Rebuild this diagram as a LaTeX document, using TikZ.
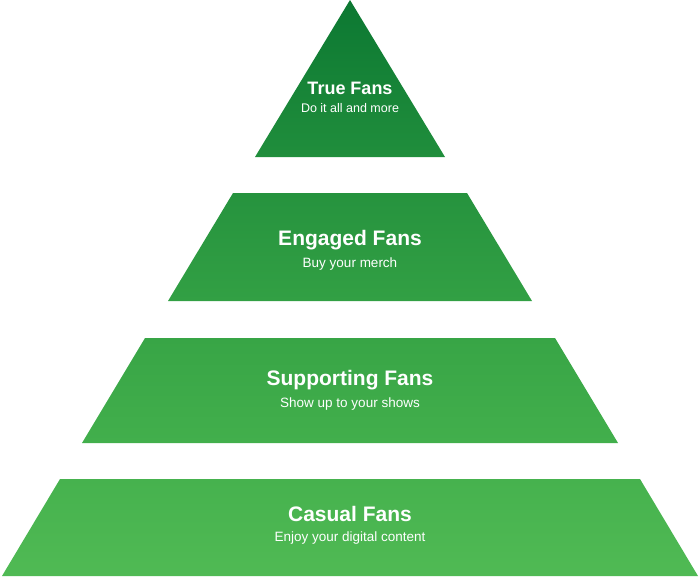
\documentclass[tikz,border=0pt]{standalone}
\usepackage{fontspec}
\setmainfont{Liberation Sans}
\begin{document}
\begin{tikzpicture}[x=1pt,y=-1pt,
  ttl/.style={text=white,font=\bfseries\fontsize{21}{24}\selectfont,inner sep=0},
  sub/.style={text=white,font=\fontsize{13.5}{16}\selectfont,inner sep=0}]
\useasboundingbox (0,0) rectangle (700,576);
\definecolor{g0}{RGB}{12,120,50}
\definecolor{g1}{RGB}{32,142,60}
\definecolor{g2}{RGB}{38,147,62}
\definecolor{g3}{RGB}{50,160,68}
\definecolor{g4}{RGB}{56,165,70}
\definecolor{g5}{RGB}{66,175,76}
\definecolor{g6}{RGB}{70,178,78}
\definecolor{g7}{RGB}{80,186,84}
\shade[top color=g0,bottom color=g1] (350,0) -- (445,157) -- (255,157) -- cycle;
\shade[top color=g2,bottom color=g3] (233,193) -- (467,193) -- (532,301) -- (168,301) -- cycle;
\shade[top color=g4,bottom color=g5] (145,338) -- (555,338) -- (618,443) -- (82,443) -- cycle;
\shade[top color=g6,bottom color=g7] (60,479) -- (640,479) -- (698,576) -- (2,576) -- cycle;
\node[ttl,font=\bfseries\fontsize{18}{20}\selectfont] (t1) at (350,88) {True Fans};
\node[sub,font=\fontsize{12.5}{14}\selectfont] (s1) at (350,108) {Do it all and more};
\node[ttl] (t2) at (350,240) {Engaged Fans};
\node[sub] (s2) at (350,264) {Buy your merch};
\node[ttl] (t3) at (350,380) {Supporting Fans};
\node[sub] (s3) at (350,404) {Show up to your shows};
\node[ttl] (t4) at (350,514) {Casual Fans};
\node[sub] (s4) at (350,538) {Enjoy your digital content};
\end{tikzpicture}
\end{document}
